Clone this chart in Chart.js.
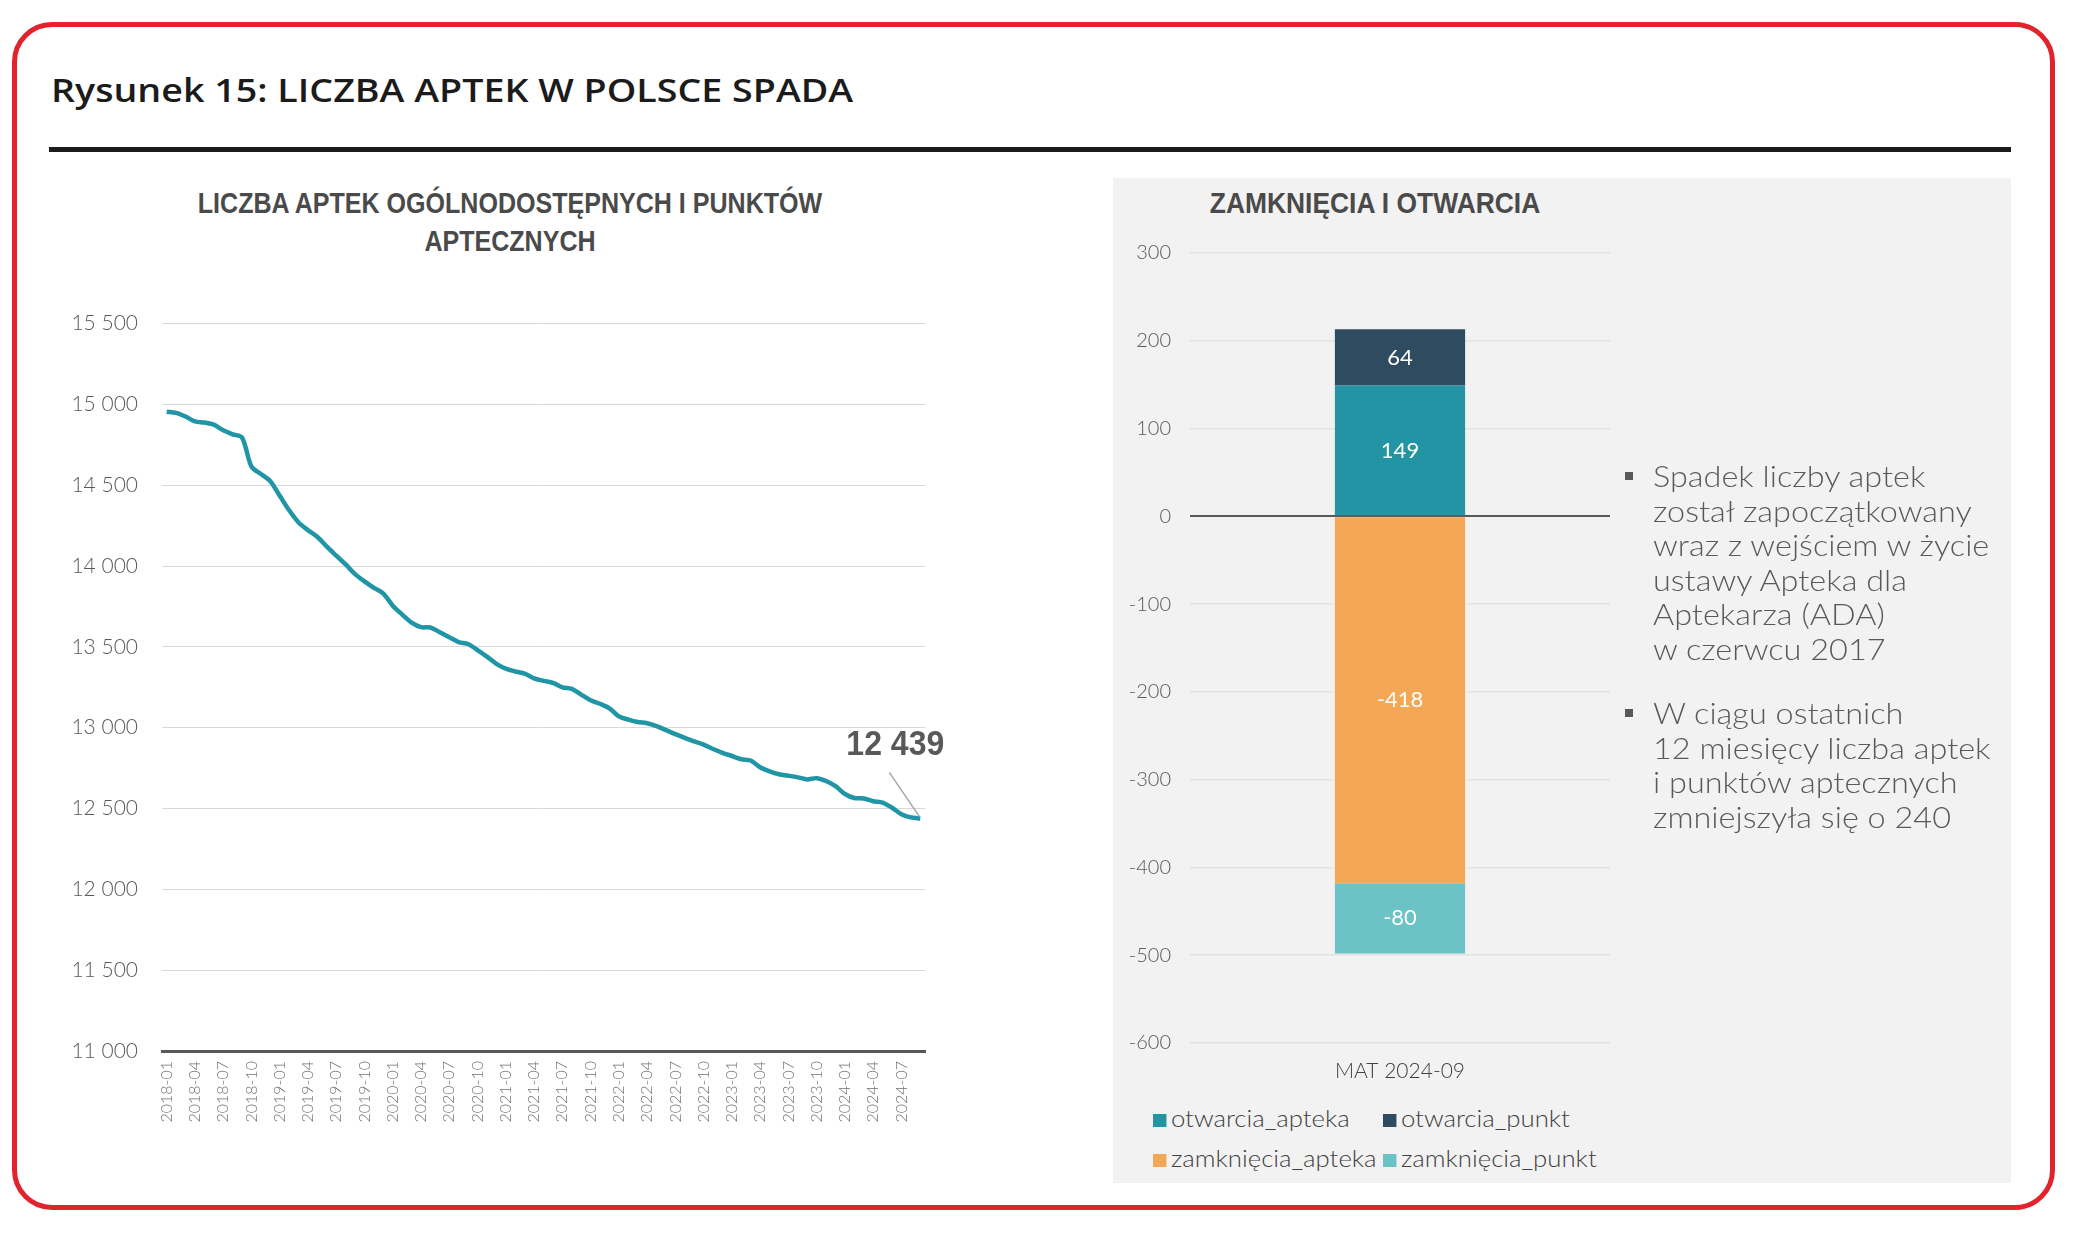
<!DOCTYPE html>
<html><head><meta charset="utf-8">
<script src="https://cdn.jsdelivr.net/npm/chart.js@4.4.1/dist/chart.umd.min.js"></script>
<style>
html,body{margin:0;padding:0;background:#fff;}
body{width:2073px;height:1257px;position:relative;overflow:hidden;font-family:Lato,"Open Sans",sans-serif;}
.frame{position:absolute;left:12px;top:22px;width:2033px;height:1178px;border:5px solid #e3232b;border-radius:40px;}
.title{position:absolute;left:51px;top:68px;font-family:"Open Sans",sans-serif;font-weight:600;font-size:33px;color:#1b1b1b;white-space:nowrap;line-height:44px;transform:scaleX(1.14);transform-origin:0 0;}
.rule{position:absolute;left:49px;top:147px;width:1962px;height:5px;background:#1b1b1b;}
.panel{position:absolute;left:1113px;top:178px;width:898px;height:1005px;background:#f2f2f2;}
.sub{position:absolute;font-family:"Liberation Sans",Arial,sans-serif;font-weight:bold;font-size:30px;color:#4a4a4a;text-align:center;line-height:38px;white-space:nowrap;}
.bul{position:absolute;left:1625px;font-family:Lato,sans-serif;font-weight:300;font-size:29.5px;color:#595959;line-height:34.5px;white-space:nowrap;}
.bul .sq{position:absolute;left:0;top:13px;width:8px;height:8px;background:#595959;}
.bul .tx{position:absolute;left:28px;top:0;transform:scaleX(1.1);transform-origin:0 0;}
.leg{position:absolute;font-family:Lato,sans-serif;font-weight:300;font-size:23px;color:#404040;white-space:nowrap;line-height:30px;transform:scaleX(1.12);transform-origin:0 0;}
.leg i{display:inline-block;width:12px;height:13px;margin-right:4px;vertical-align:0px;}
canvas{position:absolute;}
</style></head>
<body>
<div class="frame"></div>
<div class="title">Rysunek 15: LICZBA APTEK W POLSCE SPADA</div>
<div class="rule"></div>
<div class="panel"></div>
<div class="sub" style="left:60px;top:184px;width:900px;transform:scaleX(0.835);transform-origin:50% 0;">LICZBA APTEK OGÓLNODOSTĘPNYCH I PUNKTÓW<br>APTECZNYCH</div>
<div class="sub" style="left:1175px;top:184px;width:400px;transform:scaleX(0.88);transform-origin:50% 0;">ZAMKNIĘCIA I OTWARCIA</div>
<canvas id="c1" width="930" height="853" style="left:40px;top:287px;"></canvas>
<canvas id="c2" width="520" height="878" style="left:1113px;top:222px;"></canvas>
<div id="legend"></div>
<div class="bul" style="top:459px;"><span class="sq"></span><div class="tx">Spadek liczby aptek<br>został zapoczątkowany<br>wraz z wejściem w życie<br>ustawy Apteka dla<br>Aptekarza (ADA)<br>w czerwcu 2017</div></div>
<div class="bul" style="top:696px;"><span class="sq"></span><div class="tx">W ciągu ostatnich<br>12 miesięcy liczba aptek<br>i punktów aptecznych<br>zmniejszyła się o 240</div></div>
<script>
// ---- Left chart data ----
const months = [
'2018-01','2018-02','2018-03','2018-04','2018-05','2018-06','2018-07','2018-08','2018-09','2018-10','2018-11','2018-12',
'2019-01','2019-02','2019-03','2019-04','2019-05','2019-06','2019-07','2019-08','2019-09','2019-10','2019-11','2019-12',
'2020-01','2020-02','2020-03','2020-04','2020-05','2020-06','2020-07','2020-08','2020-09','2020-10','2020-11','2020-12',
'2021-01','2021-02','2021-03','2021-04','2021-05','2021-06','2021-07','2021-08','2021-09','2021-10','2021-11','2021-12',
'2022-01','2022-02','2022-03','2022-04','2022-05','2022-06','2022-07','2022-08','2022-09','2022-10','2022-11','2022-12',
'2023-01','2023-02','2023-03','2023-04','2023-05','2023-06','2023-07','2023-08','2023-09','2023-10','2023-11','2023-12',
'2024-01','2024-02','2024-03','2024-04','2024-05','2024-06','2024-07','2024-08','2024-09'];
const pharmacyCount = [
14955,14948,14925,14895,14888,14875,14840,14815,14795,14615,14570,14525,
14435,14345,14270,14222,14180,14120,14065,14010,13950,13905,13865,13830,
13755,13700,13650,13622,13620,13590,13560,13530,13518,13480,13440,13395,
13365,13348,13335,13305,13290,13278,13250,13240,13205,13170,13148,13120,
13070,13050,13035,13028,13010,12985,12960,12937,12915,12895,12868,12845,
12825,12805,12797,12755,12730,12712,12703,12693,12680,12688,12670,12638,
12590,12565,12562,12545,12537,12505,12465,12445,12439];
const countTicks = [11000,11500,12000,12500,13000,13500,14000,14500,15000,15500];

// ---- Right chart data ----
const periodLabels = ['MAT 2024-09'];
const seriesNames = ['otwarcia_apteka','otwarcia_punkt','zamknięcia_apteka','zamknięcia_punkt'];
const otwarciaApteka = [149];
const otwarciaPunkt = [64];
const zamknieciaApteka = [-418];
const zamknieciaPunkt = [-80];
const changeTicks = [300,200,100,0,-100,-200,-300,-400,-500,-600];
const seriesColors = ['#2294a4','#2e4b60','#f4a754','#6cc3c5'];

const fmt = v => String(v).replace(/\B(?=(\d{3})+(?!\d))/g,' ');

const lastLabel = {
  id:'lastLabel',
  afterDatasetsDraw(chart){
    const meta = chart.getDatasetMeta(0);
    const pt = meta.data[meta.data.length-1];
    const c = chart.ctx;
    c.save();
    c.strokeStyle='#a6a6a6'; c.lineWidth=1.5;
    c.beginPath(); c.moveTo(pt.x-31, pt.y-46); c.lineTo(pt.x-1, pt.y-2); c.stroke();
    c.fillStyle='#595959';
    c.font='bold 32px "Liberation Sans", Arial, sans-serif';
    c.textAlign='center'; c.textBaseline='middle';
    c.translate(pt.x-25, pt.y-73);
    c.scale(1.0,1.08);
    c.fillText(fmt(pharmacyCount[pharmacyCount.length-1]), 0, 0);
    c.restore();
  }
};

new Chart(document.getElementById('c1'), {
  type:'line',
  data:{labels:months, datasets:[{data:pharmacyCount, borderColor:'#2095a5', borderWidth:4.5, pointRadius:0, tension:0.3, fill:false}]},
  options:{
    responsive:false, animation:false, devicePixelRatio:1,
    layout:{padding:{top:8,right:45,left:0,bottom:0}},
    plugins:{legend:{display:false}, tooltip:{enabled:false}},
    scales:{
      x:{offset:true, grid:{display:false, drawTicks:false},
         border:{display:true,color:'#595959',width:3},
         ticks:{autoSkip:false, maxRotation:90, minRotation:90, padding:10, color:'#707070',
                font:{family:'Lato',size:16,weight:300},
                callback:(v,i)=> i%3===0 ? months[i] : ''},
         afterFit(s){s.height=89;}},
      y:{min:11000,max:15500,
         afterBuildTicks(s){s.ticks = countTicks.map(v=>({value:v}));},
         ticks:{padding:24, color:'#595959', font:{family:'Lato',size:21,weight:300}, callback:v=>fmt(v)},
         grid:{color:'#d9d9d9', lineWidth:1, drawTicks:false},
         border:{display:false},
         afterFit(s){s.width=122;}}
    }
  },
  plugins:[lastLabel]
});

const barLabels = {
  id:'barLabels',
  afterDatasetsDraw(chart){
    const c = chart.ctx;
    c.save();
    c.fillStyle='#ffffff';
    c.font='22px Lato, sans-serif';
    c.textAlign='center'; c.textBaseline='middle';
    chart.data.datasets.forEach((ds,i)=>{
      chart.getDatasetMeta(i).data.forEach((bar,j)=>{
        c.fillText(String(ds.data[j]), bar.x, (bar.y+bar.base)/2);
      });
    });
    c.restore();
  }
};

const seriesData = [otwarciaApteka, otwarciaPunkt, zamknieciaApteka, zamknieciaPunkt];
new Chart(document.getElementById('c2'), {
  type:'bar',
  data:{labels:periodLabels, datasets: seriesNames.map((n,i)=>({label:n, data:seriesData[i], backgroundColor:seriesColors[i], borderWidth:0, barPercentage:0.31, categoryPercentage:1}))},
  options:{
    responsive:false, animation:false, devicePixelRatio:1,
    layout:{padding:{top:14,right:23,left:0,bottom:0}},
    plugins:{legend:{display:false}, tooltip:{enabled:false}},
    scales:{
      x:{stacked:true, grid:{display:false, drawTicks:false}, border:{display:false},
         ticks:{padding:16, color:'#404040', font:{family:'Lato',size:21,weight:300}},
         afterFit(s){s.height=57;}},
      y:{stacked:true, min:-600, max:300,
         afterBuildTicks(s){s.ticks = changeTicks.map(v=>({value:v}));},
         ticks:{padding:19, color:'#595959', font:{family:'Lato',size:20,weight:300}},
         grid:{drawTicks:false, color:ctx=> ctx.tick && ctx.tick.value===0 ? '#595959' : '#e2e2e2', lineWidth:ctx=> ctx.tick && ctx.tick.value===0 ? 2 : 1.5},
         border:{display:false},
         afterFit(s){s.width=77;}}
    }
  },
  plugins:[barLabels]
});

// HTML legend built from the series arrays
const legPos = [[1153,1103],[1383,1103],[1153,1143],[1383,1143]];
const legEl = document.getElementById('legend');
seriesNames.forEach((n,i)=>{
  const d = document.createElement('div');
  d.className='leg';
  d.style.left=legPos[i][0]+'px'; d.style.top=legPos[i][1]+'px';
  d.innerHTML='<i style="background:'+seriesColors[i]+'"></i>'+n;
  legEl.appendChild(d);
});
</script>
</body></html>
